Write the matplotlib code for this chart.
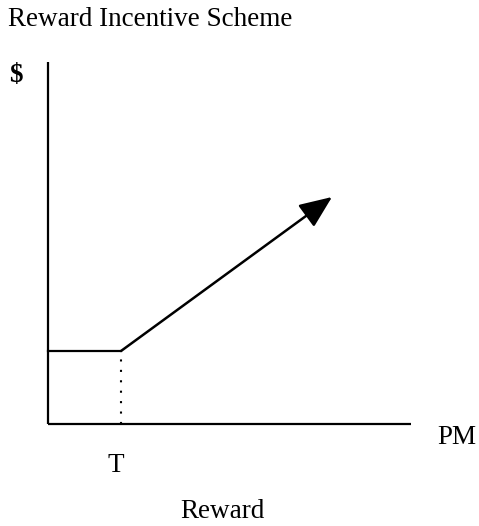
import matplotlib.pyplot as plt

plt.rcParams['font.family'] = ['Liberation Serif', 'DejaVu Serif']

# axis extents (origin at the axes crossing)
x_axis_len = 363
y_axis_len = 362

# reward line: flat up to threshold T, then rising
threshold = 73
base_reward = 73
arrow_end = (284, 227)

fig = plt.figure(figsize=(4.79, 5.26), dpi=100)
ax = fig.add_axes([0, 0, 1, 1])
ax.set_xlim(-48, 431)
ax.set_ylim(-102, 424)
ax.axis('off')

# axes
ax.plot([0, 0], [0, y_axis_len], color='black', lw=1.6, solid_capstyle='butt')
ax.plot([0, x_axis_len], [0, 0], color='black', lw=1.6, solid_capstyle='butt')

# flat part
ax.plot([0, threshold], [base_reward, base_reward], color='black', lw=1.6)
# dotted drop to T
ax.plot([threshold, threshold], [0, base_reward], color='black', lw=1.5,
        linestyle=(0, (1, 4)))
# rising part with arrow
ax.annotate('', xy=arrow_end, xytext=(threshold, base_reward),
            arrowprops=dict(arrowstyle='-|>,head_length=1.0,head_width=0.42',
                            color='black', lw=1.8, mutation_scale=20,
                            shrinkA=0, shrinkB=0))

fs = 19.5
fig.text(8 / 479, 1 - 20 / 526, 'Reward Incentive Scheme', fontsize=fs,
         va='center', ha='left')
fig.text(9 / 479, 1 - 75 / 526, '$', fontsize=fs, va='center', ha='left',
         fontweight='bold')
fig.text(437 / 479, 1 - 438 / 526, 'PM', fontsize=fs, va='center', ha='left')
fig.text(116 / 479, 1 - 465 / 526, 'T', fontsize=fs, va='center', ha='center')
fig.text(222 / 479, 1 - 511 / 526, 'Reward', fontsize=fs, va='center', ha='center')

fig.savefig('out.png', dpi=100)
